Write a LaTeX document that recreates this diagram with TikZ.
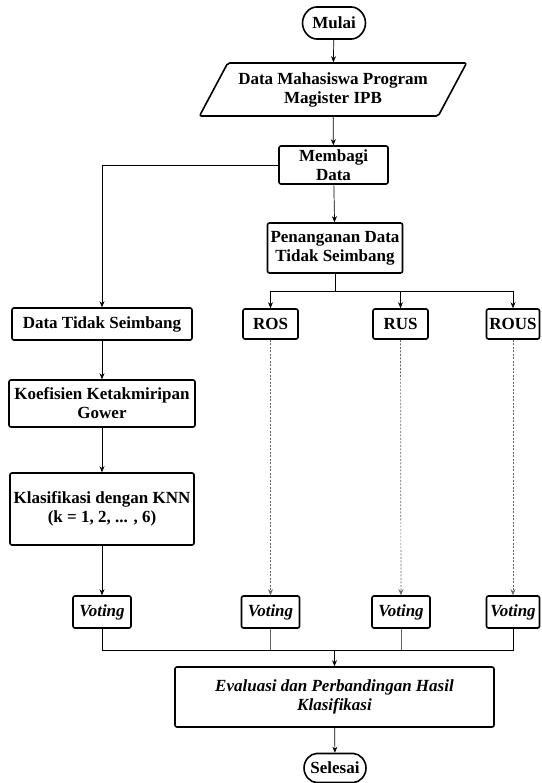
\documentclass[tikz,border=0pt]{standalone}
\usepackage{fontspec}
\setmainfont{Liberation Serif}
\usetikzlibrary{positioning}
\usetikzlibrary{shapes.geometric,shapes.misc}
\usetikzlibrary{arrows.meta}

\begin{document}
\begin{tikzpicture}[x=1pt, y=-1pt,
    box/.style={draw, line width=1.6pt, rounded corners=2pt, align=center, inner sep=2pt,
      font=\fontsize{17}{19}\selectfont\bfseries},
    terminal/.style={box, rounded rectangle},
    vote/.style={box, font=\fontsize{17}{19}\selectfont\bfseries\itshape,
      minimum height=32pt},
    link/.style={line width=0.7pt, -{Stealth[length=6pt,width=5pt]}},
    dotlink/.style={link, gray!80!black, dash pattern=on 2pt off 1.5pt},
    joinline/.style={line width=0.7pt}]

    \useasboundingbox (0,0) rectangle (541,783);

    \node[terminal, minimum width=67pt, minimum height=32pt] (mulai) at (334,23) {Mulai};

    \node[box, trapezium, trapezium left angle=56, trapezium right angle=124,
      trapezium stretches=true, minimum width=268pt, minimum height=53pt]
      (input) at (333,89.5) {Data Mahasiswa Program\\Magister IPB};

    \node[box, minimum width=109pt, minimum height=38pt] (membagi) at (333.5,165) {Membagi\\Data};
    \node[box, minimum width=135pt, minimum height=50pt] (tangani) at (335,248) {Penanganan Data\\Tidak Seimbang};

    \node[box, minimum width=180pt, minimum height=32pt] (tidak) at (102,324) {Data Tidak Seimbang};
    \node[box, minimum width=55pt, minimum height=30pt] (ros) at (270.5,324) {ROS};
    \node[box, minimum width=55pt, minimum height=30pt] (rus) at (400.5,324) {RUS};
    \node[box, minimum width=53pt, minimum height=30pt] (rous) at (513,324) {ROUS};

    \node[box, minimum width=186pt, minimum height=47pt] (gower) at (102,403.5) {Koefisien Ketakmiripan\\Gower};
    \node[box, minimum width=184pt, minimum height=72pt] (knn) at (102,509) {Klasifikasi dengan KNN\\(k = 1, 2, ... , 6)};

    % kotak voting
    \foreach \n/\x/\w in {1/102/58, 2/270.5/58, 3/401/58, 4/513/53}
      \node[vote, minimum width=\w pt] (v\n) at (\x,612) {Voting};

    \node[box, font=\fontsize{17}{19}\selectfont\bfseries\itshape,
      minimum width=319pt, minimum height=60pt] (eval) at (334.5,697) {Evaluasi dan Perbandingan Hasil\\Klasifikasi};
    \node[terminal, minimum width=66pt, minimum height=29pt] (selesai) at (335,768) {Selesai};

    \draw[link] (mulai) -- (input);
    \draw[link] (input) -- (membagi);
    \draw[link] (membagi.west) -| (tidak.north);
    \draw[link] (membagi) -- (tangani);

    \draw[joinline] (tangani.south) -- ++(0,18) coordinate (cabang);
    \foreach \t in {ros, rus, rous}
      \draw[link] (cabang) -| (\t.north);

    \draw[link] (tidak) -- (gower);
    \draw[link] (gower) -- (knn);
    \draw[link] (knn) -- (v1);

    \draw[dotlink] (ros) -- (v2);
    \draw[dotlink] (rus) -- (v3);
    \draw[dotlink] (rous) -- (v4);

    % gabungan hasil voting
    \coordinate (gabung) at (334.5,650);
    \draw[joinline] (v1.south) |- (gabung);
    \draw[joinline] (v4.south) |- (gabung);
    \draw[joinline, gray!80!black] (v2.south) -- (v2.south |- gabung);
    \draw[joinline, gray!80!black] (v3.south) -- (v3.south |- gabung);
    \draw[link] (gabung) -- (eval);
    \draw[link] (eval) -- (selesai);

  \end{tikzpicture}
\end{document}
